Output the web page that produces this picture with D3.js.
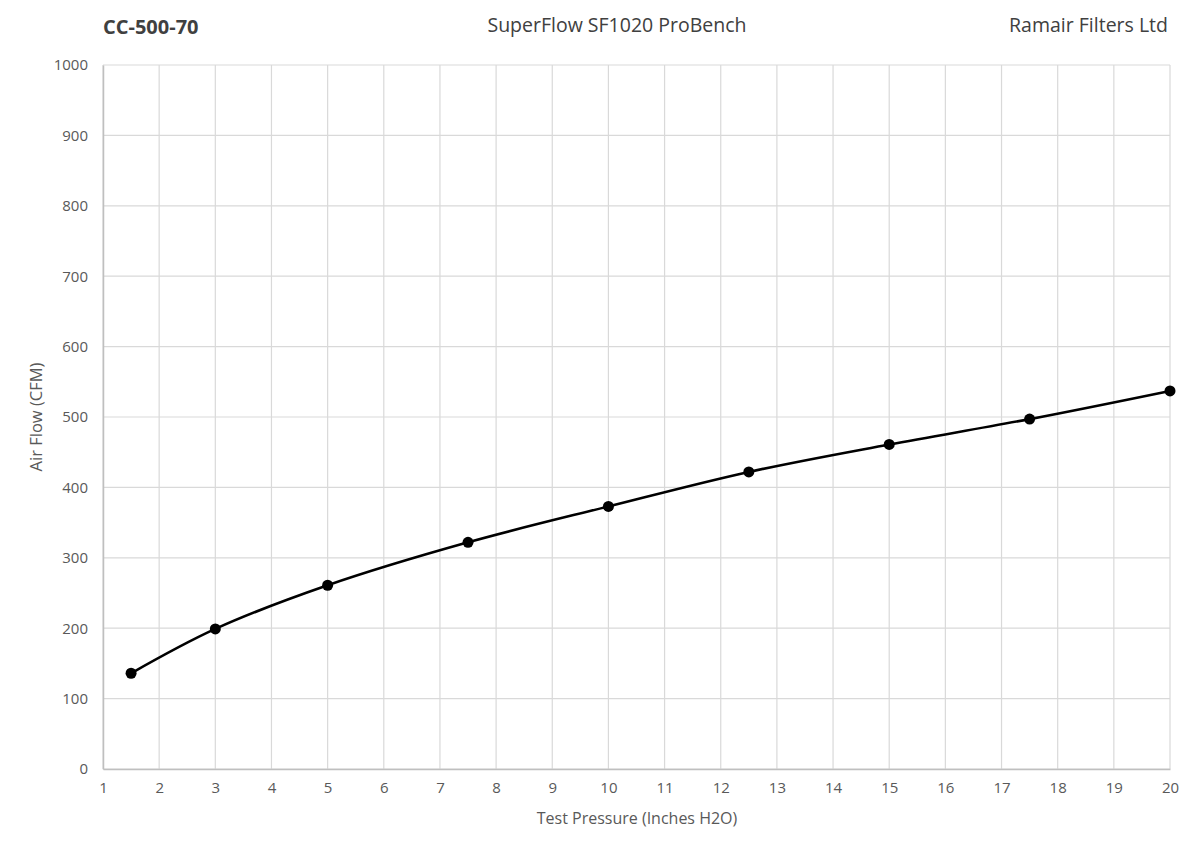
<!DOCTYPE HTML>
<html lang="en">
  <head>
    <meta charset="UTF-8">
    <title>CC-500-70 flow chart</title>
  </head>
  <body style="margin:0;background:#fff">
  <style>
    body { font-family: "Open Sans", sans-serif; }
  </style>

    <svg id="viz"></svg>

    <script src="https://cdn.jsdelivr.net/npm/d3@7/dist/d3.min.js"></script>
    <script>
      // test pressures and measured flow
      const pressure = [1.5, 3, 5, 7.5, 10, 12.5, 15, 17.5, 20];
      const airFlow = [136, 199, 261, 322, 373, 422, 461, 497, 537];
      const xTicks = d3.range(1, 21);
      const yTicks = d3.range(0, 1001, 100);

      const width = 1200, height = 854;
      const plotLeft = 103, plotRight = 1170, plotTop = 65, plotBottom = 769;

      const svg = d3.select("#viz")
        .attr("width", width)
        .attr("height", height);

      const x = d3.scaleLinear().domain([1, 20]).range([plotLeft, plotRight]);
      const y = d3.scaleLinear().domain([0, 1000]).range([plotBottom, plotTop]);

      // grid
      svg.append("g")
        .selectAll("line")
        .data(xTicks)
        .join("line")
          .attr("x1", d => x(d)).attr("x2", d => x(d))
          .attr("y1", plotTop).attr("y2", plotBottom)
          .attr("stroke", "#d9d9d9")
          .attr("stroke-width", 1.2);

      svg.append("g")
        .selectAll("line")
        .data(yTicks)
        .join("line")
          .attr("x1", plotLeft).attr("x2", plotRight)
          .attr("y1", d => y(d)).attr("y2", d => y(d))
          .attr("stroke", "#d9d9d9")
          .attr("stroke-width", 1.2);

      const xAxis = svg.append("g")
        .attr("transform", `translate(0,${plotBottom})`)
        .call(d3.axisBottom(x).tickValues(xTicks).tickSize(0).tickPadding(13).tickFormat(d3.format("d")));
      xAxis.select(".domain").attr("stroke", "#bfbfbf").attr("stroke-width", 1.5);

      const yAxis = svg.append("g")
        .attr("transform", `translate(${plotLeft},0)`)
        .call(d3.axisLeft(y).tickValues(yTicks).tickSize(0).tickPadding(15).tickFormat(d3.format("d")));
      yAxis.select(".domain").attr("stroke", "#bfbfbf").attr("stroke-width", 1.5);

      svg.selectAll(".tick text")
        .attr("font-family", "'Open Sans', sans-serif")
        .attr("font-size", 15)
        .attr("fill", "#595959");

      const data = pressure.map((p, i) => ({p: p, f: airFlow[i]}));

      svg.append("path")
        .datum(data)
        .attr("fill", "none")
        .attr("stroke", "#000")
        .attr("stroke-width", 2.6)
        .attr("d", d3.line().x(d => x(d.p)).y(d => y(d.f)).curve(d3.curveCatmullRom));

      svg.selectAll(".dot")
        .data(data)
        .join("circle")
          .attr("class", "dot")
          .attr("cx", d => x(d.p))
          .attr("cy", d => y(d.f))
          .attr("r", 5.5)
          .attr("fill", "#000");

      // titles
      svg.append("text")
        .attr("x", 103).attr("y", 34)
        .attr("font-size", 20).attr("font-weight", 700)
        .attr("fill", "#404040")
        .text("CC-500-70");

      svg.append("text")
        .attr("x", 617).attr("y", 32)
        .attr("text-anchor", "middle")
        .attr("font-size", 19.5)
        .attr("fill", "#404040")
        .text("SuperFlow SF1020 ProBench");

      svg.append("text")
        .attr("x", 1168).attr("y", 32)
        .attr("text-anchor", "end")
        .attr("font-size", 19.5)
        .attr("fill", "#404040")
        .text("Ramair Filters Ltd");

      svg.append("text")
        .attr("x", 637).attr("y", 824)
        .attr("text-anchor", "middle")
        .attr("font-size", 16)
        .attr("fill", "#595959")
        .text("Test Pressure (Inches H2O)");

      svg.append("text")
        .attr("transform", `translate(42,${(plotTop + plotBottom) / 2}) rotate(-90)`)
        .attr("text-anchor", "middle")
        .attr("font-size", 16.5)
        .attr("fill", "#595959")
        .text("Air Flow (CFM)");
    </script>
  </body>
</html>
